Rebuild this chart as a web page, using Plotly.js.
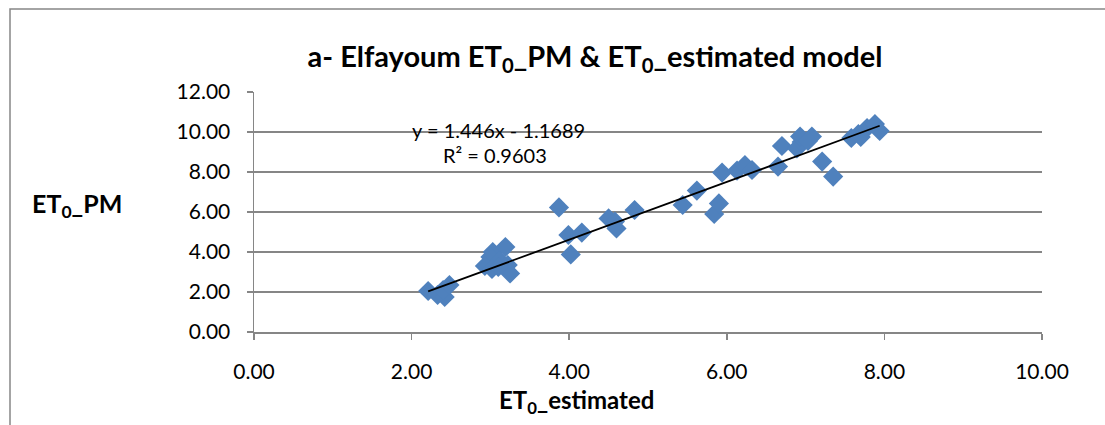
<!DOCTYPE html>
<html>
<head>
<meta charset="utf-8">
<script src="https://cdn.plot.ly/plotly-3.0.1.min.js"></script>
<style>html,body{margin:0;padding:0;background:#fff;}#chart{width:1105px;height:425px;}</style>
</head>
<body>
<div id="chart"></div>
<script>
const etEstimated = [2.21,2.33,2.42,2.40,2.48,3.03,3.19,3.00,3.12,2.93,3.02,3.22,3.25,3.10,
  3.87,3.99,4.16,4.02,4.50,4.58,4.60,4.83,5.44,5.62,5.84,5.90,5.94,6.13,6.23,6.32,
  6.65,6.70,6.89,6.95,6.93,7.08,7.03,7.21,7.35,7.58,7.67,7.70,7.78,7.88,7.94];
const etPM = [2.05,1.85,1.75,2.10,2.35,4.00,4.25,3.75,3.55,3.30,3.15,3.35,2.93,3.25,
  6.23,4.85,4.97,3.88,5.68,5.52,5.18,6.10,6.35,7.07,5.90,6.43,7.97,8.07,8.35,8.10,
  8.27,9.30,9.18,9.50,9.77,9.77,9.55,8.52,7.77,9.70,9.90,9.75,10.20,10.40,10.05];
const slope = 1.446, intercept = -1.1689, r2 = 0.9603;
const xTicks = [0,2,4,6,8,10];
const yTicks = [0,2,4,6,8,10,12];

const xmin = Math.min(...etEstimated), xmax = Math.max(...etEstimated);
const trendX = [xmin, xmax];
const trendY = trendX.map(v => slope*v + intercept);

const font = "Lato, 'Open Sans', sans-serif";
const L = 254, R = 1042, T = 92, B = 332;
const pw = R - L, ph = B - T;

const data = [
  {x: etEstimated, y: etPM, type: 'scatter', mode: 'markers',
   marker: {symbol: 'diamond', size: 15.5, color: '#4F81BD'}, hoverinfo: 'x+y'},
  {x: trendX, y: trendY, type: 'scatter', mode: 'lines',
   line: {color: '#000000', width: 1.8}, hoverinfo: 'skip'}
];

const layout = {
  width: 1105, height: 425,
  margin: {l: L, r: 1105 - R, t: T, b: 425 - B},
  paper_bgcolor: '#ffffff', plot_bgcolor: '#ffffff',
  showlegend: false,
  font: {family: font, color: '#000', size: 21},
  title: {text: '<b>a- Elfayoum ET<sub>0</sub>_PM &amp; ET<sub>0</sub>_estimated model</b>',
          x: 595/1105, xanchor: 'center', y: 1 - 57/425, yanchor: 'middle',
          font: {family: font, size: 29, color: '#000'}},
  xaxis: {range: [0, 10], tickvals: xTicks, ticktext: xTicks.map(v => v.toFixed(2)),
          showgrid: false, zeroline: false, showline: true, linecolor: '#868686', linewidth: 1.5,
          ticks: 'outside', ticklen: 6, tickcolor: '#868686', tickwidth: 1.5,
          ticklabelstandoff: 14,
          tickfont: {family: font, size: 21, color: '#000'},
          title: {text: ''}},
  yaxis: {range: [0, 12], tickvals: yTicks, ticktext: yTicks.map(v => v.toFixed(2)),
          showgrid: true, gridcolor: '#868686', gridwidth: 1.5, zeroline: false,
          showline: true, linecolor: '#868686', linewidth: 1.5,
          ticks: 'outside', ticklen: 6, tickcolor: '#868686', tickwidth: 1.5,
          ticklabelstandoff: 12,
          tickfont: {family: font, size: 21, color: '#000'},
          title: {text: ''}},
  annotations: [
    {x: (498 - L)/78.8, y: (B - 130)/20, xref: 'x', yref: 'y', xanchor: 'center', yanchor: 'middle',
     text: 'y = 1.446x - 1.1689', showarrow: false,
     font: {family: font, size: 20, color: '#000'}},
    {x: (495 - L)/78.8, y: (B - 155)/20, xref: 'x', yref: 'y', xanchor: 'center', yanchor: 'middle',
     text: 'R² = ' + r2.toFixed(4), showarrow: false,
     font: {family: font, size: 20, color: '#000'}},
    {x: (77 - L)/pw, y: (B - 205)/ph, xref: 'paper', yref: 'paper', xanchor: 'center', yanchor: 'middle',
     text: '<b>ET<sub>0</sub>_PM</b>', showarrow: false,
     font: {family: font, size: 25, color: '#000'}},
    {x: (576 - L)/pw, y: (B - 401)/ph, xref: 'paper', yref: 'paper', xanchor: 'center', yanchor: 'middle',
     text: '<b>ET<sub>0</sub>_estimated</b>', showarrow: false,
     font: {family: font, size: 24, color: '#000'}}
  ],
  shapes: [
    {type: 'rect', xref: 'paper', yref: 'paper',
     x0: (10 - L)/pw, x1: (1200 - L)/pw, y0: (B - 500)/ph, y1: (B - 9)/ph,
     line: {color: '#868686', width: 1.5}, fillcolor: 'rgba(0,0,0,0)', layer: 'below'}
  ]
};

Plotly.newPlot('chart', data, layout, {displayModeBar: false, staticPlot: true});
</script>
</body>
</html>
